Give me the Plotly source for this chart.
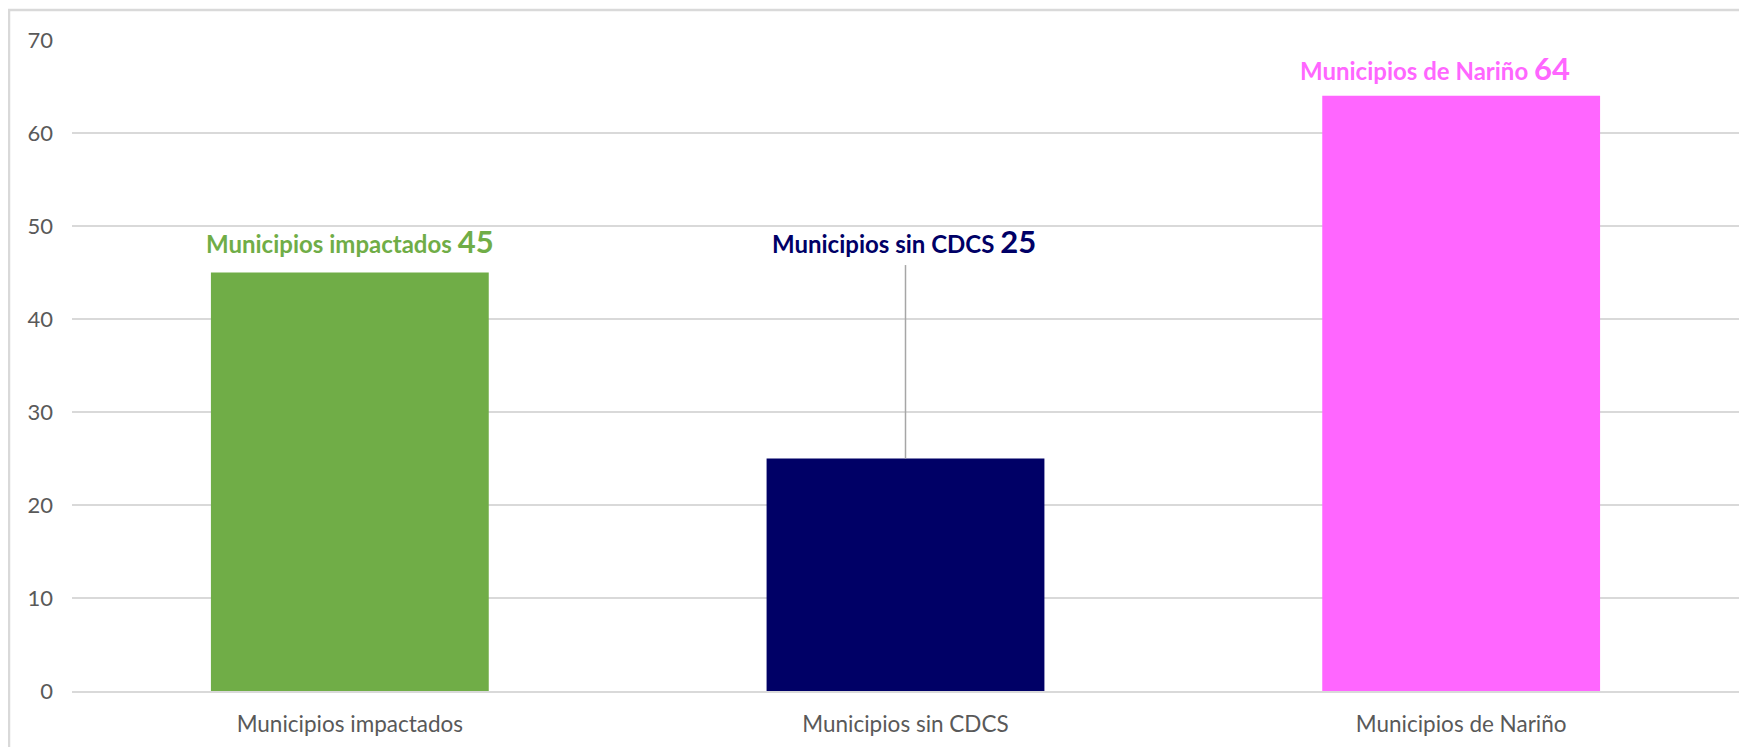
import plotly.graph_objects as go

categories = ["Municipios impactados", "Municipios sin CDCS", "Municipios de Nariño"]
values = [45, 25, 64]
bar_colors = ["#70ad47", "#000066", "#ff66ff"]
label_texts = ["Municipios impactados", "Municipios sin CDCS", "Municipios de Nariño"]
y_ticks = [0, 10, 20, 30, 40, 50, 60, 70]

# page body has an 8px margin, so the figure is drawn 8px smaller
W, H = 1739, 739
ML, MR, MT, MB = 64, 8, 32, 56

fig = go.Figure()
fig.add_trace(go.Bar(
    x=categories, y=values,
    marker=dict(color=bar_colors, line=dict(width=0)),
    width=0.5, hoverinfo="x+y", showlegend=False,
))

label_y = [48.4, 48.4, 67.0]
label_xshift = [0, -2, -26]
for i, cat in enumerate(categories):
    fig.add_annotation(
        x=cat, y=label_y[i], xref="x", yref="y",
        text=f"<b>{label_texts[i]} <span style='font-size:31px'>{values[i]}</span></b>",
        showarrow=False, xanchor="center", yanchor="middle", xshift=label_xshift[i],
        font=dict(family="Lato", size=24, color=bar_colors[i]),
    )

fig.add_shape(type="line", xref="x", yref="y",
              x0=categories[1], x1=categories[1], y0=values[1], y1=45.8,
              line=dict(color="#a6a6a6", width=1.5), layer="above")

pw = W - ML - MR
ph = H - MT - MB
fig.add_shape(type="rect", xref="paper", yref="paper",
              x0=(1 - ML) / pw, x1=1.05, y0=-0.2, y1=(H - MB - 2) / ph,
              line=dict(color="#d9d9d9", width=2.5), fillcolor="rgba(0,0,0,0)", layer="below")

fig.update_layout(
    width=W, height=H,
    margin=dict(l=ML, r=MR, t=MT, b=MB),
    paper_bgcolor="white", plot_bgcolor="white",
    bargap=0.5,
    font=dict(family="Lato", color="#595959"),
)
fig.update_xaxes(
    showgrid=False, showline=True, linecolor="#d9d9d9", linewidth=2,
    tickfont=dict(family="Lato", size=22.5, color="#595959"),
    ticks="", ticklabelstandoff=12,
)
fig.update_yaxes(
    range=[0, 70], tickvals=y_ticks, showgrid=True, gridcolor="#d9d9d9", gridwidth=2,
    zeroline=False, showline=False,
    tickfont=dict(family="Lato", size=22, color="#595959"),
    ticks="", ticklabelstandoff=18,
)

fig.write_html("out.html")
